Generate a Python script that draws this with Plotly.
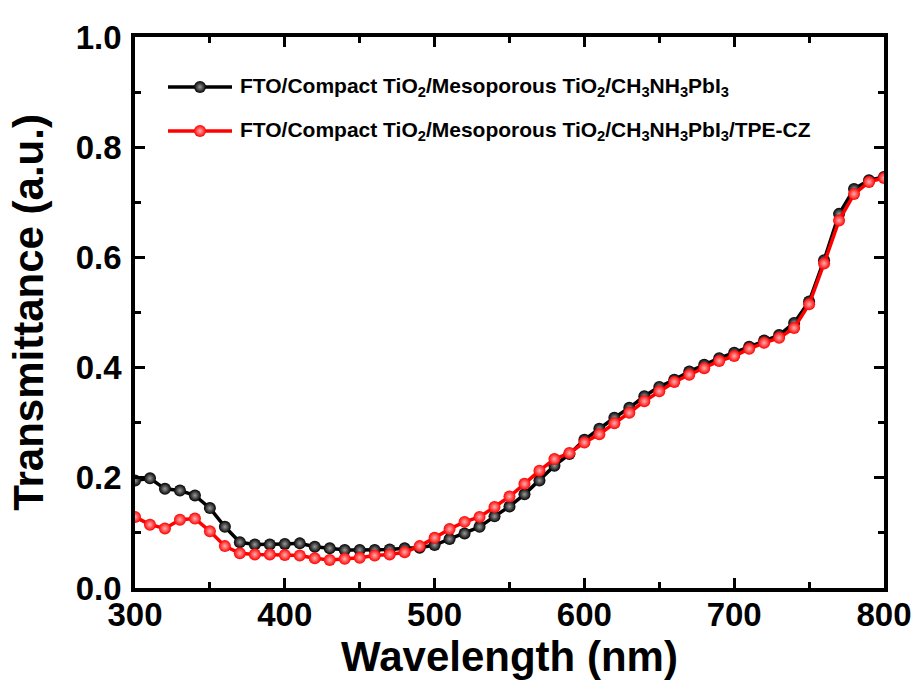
import plotly.graph_objects as go

wavelength = list(range(300, 801, 10))

t_pero = [0.195, 0.199, 0.180, 0.177, 0.168, 0.145, 0.111, 0.083, 0.079, 0.079,
          0.080, 0.081, 0.075, 0.072, 0.069, 0.069, 0.069, 0.070, 0.072, 0.073,
          0.078, 0.089, 0.099, 0.111, 0.130, 0.148, 0.170, 0.195, 0.222, 0.243,
          0.269, 0.289, 0.309, 0.327, 0.348, 0.365, 0.378, 0.393, 0.405, 0.417,
          0.427, 0.438, 0.449, 0.459, 0.481, 0.520, 0.595, 0.679, 0.724, 0.740,
          0.746]

t_tpe = [0.129, 0.115, 0.108, 0.124, 0.126, 0.103, 0.076, 0.063, 0.061, 0.061,
         0.060, 0.059, 0.054, 0.051, 0.053, 0.055, 0.059, 0.061, 0.065, 0.076,
         0.091, 0.107, 0.120, 0.129, 0.147, 0.166, 0.189, 0.213, 0.234, 0.245,
         0.264, 0.279, 0.299, 0.318, 0.339, 0.357, 0.374, 0.387, 0.399, 0.412,
         0.421, 0.434, 0.445, 0.454, 0.472, 0.515, 0.589, 0.667, 0.715, 0.737,
         0.744]

names = [
    "FTO/Compact TiO<sub>2</sub>/Mesoporous TiO<sub>2</sub>/CH<sub>3</sub>NH<sub>3</sub>PbI<sub>3</sub>",
    "FTO/Compact TiO<sub>2</sub>/Mesoporous TiO<sub>2</sub>/CH<sub>3</sub>NH<sub>3</sub>PbI<sub>3</sub>/TPE-CZ",
]
colors = ["#000000", "#ff0000"]
highlights = ["#9a9a9a", "#ffb0b0"]

x_ticks = [300, 400, 500, 600, 700, 800]
y_ticks = [0.0, 0.2, 0.4, 0.6, 0.8, 1.0]

FONT = "Liberation Sans, Arial, sans-serif"
W, H = 920, 688
L, R, T, B = 135, 884, 37, 588

fig = go.Figure()
for ys, name, c, hl in zip([t_pero, t_tpe], names, colors, highlights):
    fig.add_trace(go.Scatter(
        x=wavelength, y=ys, mode="lines+markers", name=name, showlegend=False,
        line=dict(color=c, width=3.5),
        marker=dict(size=12, color=c, line=dict(width=0),
                    gradient=dict(type="radial", color=hl)),
    ))

# manual legend (paper-like hidden axes)
def px2fx(px):
    return (px - L) / (R - L)

def py2fy(py):
    return (B - py) / (B - T)

leg_rows = [87, 131]
for row_y, name, c, hl in zip(leg_rows, names, colors, highlights):
    fy = py2fy(row_y)
    fig.add_trace(go.Scatter(
        x=[px2fx(168), px2fx(232)], y=[fy, fy], mode="lines",
        line=dict(color=c, width=3.5), xaxis="x2", yaxis="y2",
        showlegend=False, hoverinfo="skip", cliponaxis=False,
    ))
    fig.add_trace(go.Scatter(
        x=[px2fx(200)], y=[fy], mode="markers",
        marker=dict(size=12, color=c, line=dict(width=0),
                    gradient=dict(type="radial", color=hl)),
        xaxis="x2", yaxis="y2", showlegend=False, hoverinfo="skip", cliponaxis=False,
    ))
    fig.add_annotation(
        x=px2fx(238), y=fy, xref="x2", yref="y2", xanchor="left", yanchor="middle",
        text="<b>" + name + "</b>", showarrow=False,
        font=dict(family=FONT, size=21, color="black"),
    )

axis_common = dict(
    showline=True, linecolor="black", linewidth=3.5, mirror="ticks",
    ticks="inside", ticklen=10, tickwidth=3, tickcolor="black",
    showgrid=False, zeroline=False, automargin=False,
    tickfont=dict(family=FONT, size=33, color="black", weight="bold"),
)

fig.update_layout(
    width=W, height=H,
    margin=dict(l=L, r=W - R, t=T, b=H - B, autoexpand=False),
    paper_bgcolor="white", plot_bgcolor="white",
    showlegend=False,
    xaxis=dict(
        range=[300, 800], tickvals=x_ticks, ticktext=[str(v) for v in x_ticks],
        minor=dict(dtick=50, ticks="inside", ticklen=6, tickwidth=3, tickcolor="black"),
        ticklabelstandoff=-5,
        title=dict(text="Wavelength (nm)", standoff=0,
                   font=dict(family=FONT, size=42, color="black", weight="bold")),
        **axis_common,
    ),
    yaxis=dict(
        range=[0, 1.0], tickvals=y_ticks, ticktext=["%.1f" % v for v in y_ticks],
        minor=dict(dtick=0.1, ticks="inside", ticklen=6, tickwidth=3, tickcolor="black"),
        ticklabelstandoff=3,
        title=dict(text="Transmittance (a.u.)", standoff=20,
                   font=dict(family=FONT, size=42, color="black", weight="bold")),
        **axis_common,
    ),
    xaxis2=dict(overlaying="x", range=[0, 1], visible=False),
    yaxis2=dict(overlaying="y", range=[0, 1], visible=False),
)

fig.write_html("out.html", config={"displayModeBar": False},
               post_script="document.body.style.margin='0';")
